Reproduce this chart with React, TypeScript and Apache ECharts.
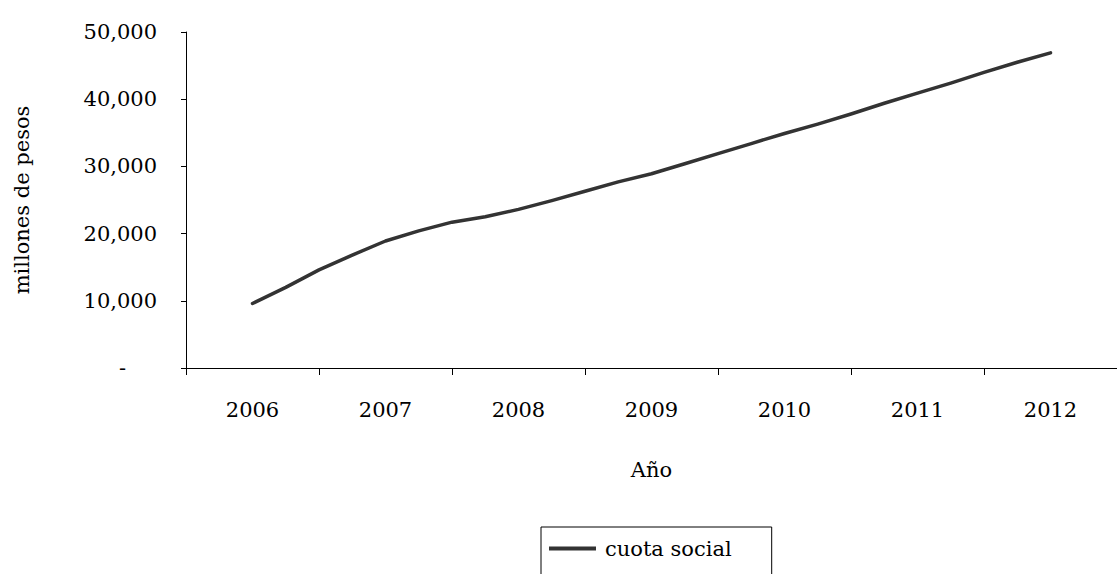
import React, { useEffect, useRef } from "react";
import * as echarts from "echarts";

const years = ["2006", "2007", "2008", "2009", "2010", "2011", "2012"];
const periods = [
  2006, 2006.25, 2006.5, 2006.75,
  2007, 2007.25, 2007.5, 2007.75,
  2008, 2008.25, 2008.5, 2008.75,
  2009, 2009.25, 2009.5, 2009.75,
  2010, 2010.25, 2010.5, 2010.75,
  2011, 2011.25, 2011.5, 2011.75,
  2012,
];
const cuotaSocial = [
  9600, 12000, 14600, 16800,
  18900, 20400, 21700, 22500,
  23600, 24900, 26300, 27700,
  28900, 30400, 31900, 33400,
  34900, 36300, 37800, 39400,
  40900, 42400, 44000, 45500,
  46900,
];
const yTickValues = [0, 10000, 20000, 30000, 40000, 50000];
const yTickLabels = ["-", "10,000", "20,000", "30,000", "40,000", "50,000"];

const FONT = "DejaVu Serif";
const FS = 21;

export default function App() {
  const ref = useRef<HTMLDivElement>(null);
  useEffect(() => {
    if (!ref.current) return;
    const chart = echarts.init(ref.current, undefined, { renderer: "svg" });
    chart.setOption({
      animation: false,
      backgroundColor: "#ffffff",
      textStyle: { fontFamily: FONT, color: "#000" },
      grid: { left: 186, right: -14, top: 32, bottom: 206, containLabel: false },
      legend: {
        left: 541,
        top: 527,
        orient: "horizontal",
        borderColor: "#000",
        borderWidth: 1,
        borderRadius: 0,
        padding: [11, 40, 40, 8],
        itemWidth: 47,
        itemHeight: 4,
        itemGap: 10,
        textStyle: { fontFamily: FONT, fontSize: FS, color: "#000", padding: [0, 0, 0, 4] },
        data: [{ name: "cuota social", icon: "rect", itemStyle: { color: "#333" } }],
      },
      xAxis: [
        {
          type: "category",
          data: years,
          boundaryGap: true,
          name: "Año",
          nameLocation: "middle",
          nameGap: 91,
          nameTextStyle: { fontFamily: FONT, fontSize: FS, color: "#000" },
          axisLine: { lineStyle: { color: "#000", width: 1 } },
          axisTick: { show: true, alignWithLabel: false, length: 7, lineStyle: { color: "#000" } },
          axisLabel: { fontFamily: FONT, fontSize: FS, color: "#000", margin: 31 },
          splitLine: { show: false },
        },
        {
          type: "value",
          show: false,
          min: 2005.5,
          max: 2012.5,
          splitLine: { show: false },
        },
      ],
      yAxis: {
        type: "value",
        min: 0,
        max: 50000,
        interval: 10000,
        name: "millones de pesos",
        nameLocation: "middle",
        nameGap: 154,
        nameRotate: 90,
        nameTextStyle: { fontFamily: FONT, fontSize: FS, color: "#000" },
        axisLine: { show: true, lineStyle: { color: "#000", width: 1 } },
        axisTick: { show: true, length: 5, lineStyle: { color: "#000" } },
        axisLabel: {
          fontFamily: FONT,
          fontSize: FS,
          color: "#000",
          margin: 29,
          formatter: (v: number) => {
            const i = yTickValues.indexOf(v);
            if (i < 0) return "";
            return i === 0 ? "{dash|" + yTickLabels[i] + "}" : yTickLabels[i];
          },
          rich: {
            dash: { fontFamily: FONT, fontSize: FS, color: "#000", padding: [0, 31, 0, 0] },
          },
        },
        splitLine: { show: false },
      },
      series: [
        {
          name: "cuota social",
          type: "line",
          xAxisIndex: 1,
          data: periods.map((p, i) => [p, cuotaSocial[i]]),
          symbol: "none",
          lineStyle: { color: "#333", width: 3.5, cap: "round", join: "round" },
          itemStyle: { color: "#333" },
        },
      ],
    });
    return () => chart.dispose();
  }, []);
  return (
    <div
      ref={ref}
      style={{ position: "absolute", left: 0, top: 0, width: 1117, height: 574 }}
    />
  );
}
